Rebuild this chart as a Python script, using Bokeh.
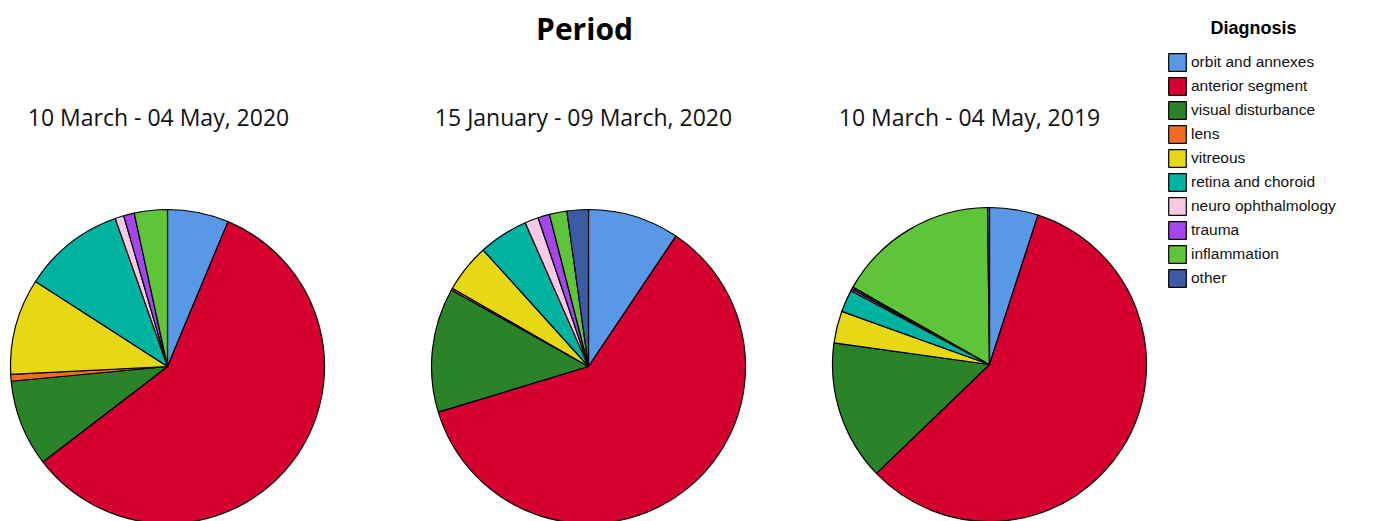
import numpy as np
from bokeh.plotting import figure
from bokeh.models import ColumnDataSource, Legend, LegendItem, Range1d
from bokeh.core.properties import value
from bokeh.embed import file_html
from bokeh.resources import INLINE

# ---- data ----
categories = ["orbit and annexes", "anterior segment", "visual disturbance", "lens",
              "vitreous", "retina and choroid", "neuro ophthalmology", "trauma",
              "inflammation", "other"]
colors = ["#5898E4", "#D5002F", "#2A8329", "#F26B23", "#E6D815", "#00B3A0",
          "#F9C8E4", "#A545EC", "#5EC43A", "#3B5BA5"]
periods = ["10 March - 04 May, 2020", "15 January - 09 March, 2020", "10 March - 04 May, 2019"]
share_2020_covid = [6.3, 58.3, 8.9, 0.7, 9.9, 10.5, 0.9, 1.1, 3.4, 0.0]
share_2020_pre = [9.4, 60.9, 12.8, 0.2, 5.0, 5.1, 1.4, 1.2, 1.8, 2.2]
share_2019 = [5.0, 57.8, 14.4, 0.0, 3.3, 2.3, 0.2, 0.2, 16.6, 0.2]
series = [share_2020_covid, share_2020_pre, share_2019]

# ---- layout ----
W, H = 1370, 521
centers = [(167, 155), (588, 155), (989, 157)]
R = 157

p = figure(width=W, height=H, output_backend="svg", toolbar_location=None,
           x_range=Range1d(0, W), y_range=Range1d(0, H), min_border=0)
p.axis.visible = False
p.grid.visible = False
p.outline_line_color = None

# compute angles
starts, ends = [], []
for vals in series:
    v = np.array(vals, dtype=float)
    frac = v / v.sum()
    cum = np.concatenate([[0.0], np.cumsum(frac)])
    starts.append(np.pi / 2 - cum[1:] * 2 * np.pi)   # anticlock start = end of slice
    ends.append(np.pi / 2 - cum[:-1] * 2 * np.pi)

items = []
for ci, cat in enumerate(categories):
    xs, ys, st, en = [], [], [], []
    for pi_, vals in enumerate(series):
        if vals[ci] > 0:
            xs.append(centers[pi_][0]); ys.append(centers[pi_][1])
            st.append(starts[pi_][ci]); en.append(ends[pi_][ci])
    src = ColumnDataSource(dict(x=xs, y=ys, start=st, end=en))
    r = p.wedge(x="x", y="y", radius=R, start_angle="start", end_angle="end",
                direction="anticlock", source=src, fill_color=colors[ci],
                line_color="black", line_width=1.2)
    items.append(LegendItem(label=cat, renderers=[r]))

legend = Legend(items=items, location=(1166, 232), glyph_width=22, glyph_height=22,
                label_height=18, spacing=2, padding=0, margin=0, label_standoff=3,
                border_line_color=None, background_fill_alpha=0,
                label_text_font="Liberation Sans", label_text_font_size="15.5px",
                label_text_color="#111111")
p.add_layout(legend)

# titles
p.text(x=[584], y=[493], text=["Period"], text_align="center", text_baseline="middle",
       text_font=value("Open Sans"), text_font_style="bold", text_font_size="30px",
       text_color="black")
sub_x = [158, 583, 969]
p.text(x=sub_x, y=[405] * 3, text=periods, text_align="center", text_baseline="middle",
       text_font=value("Open Sans"), text_font_size="23px", text_color="#111111")
p.text(x=[1253], y=[494], text=["Diagnosis"], text_align="center", text_baseline="middle",
       text_font=value("Liberation Sans"), text_font_style="bold", text_font_size="18px",
       text_color="black")

open("out.html", "w").write(file_html(p, INLINE))
